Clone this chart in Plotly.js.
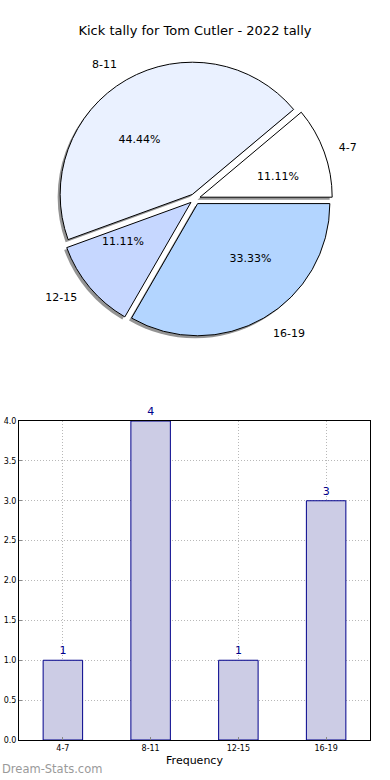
<!DOCTYPE html>
<html>
<head>
<meta charset="utf-8">
<script src="https://cdn.plot.ly/plotly-3.0.1.min.js"></script>
<style>html,body{margin:0;padding:0;background:#fff;}#chart{width:390px;height:780px;}</style>
</head>
<body>
<div id="chart"></div>
<script>
var categories = ["4-7", "8-11", "12-15", "16-19"];
var counts = [1, 4, 1, 3];
var pieColors = ["#ffffff", "#eaf1ff", "#c6d7ff", "#b3d5ff"];
var titleText = "Kick tally for Tom Cutler - 2022 tally";
var yTickVals = [0, 0.5, 1, 1.5, 2, 2.5, 3, 3.5, 4];

var W = 390, H = 780;
var pcx = 195, pcy = 199, D = 275;
var pull = [0.04, 0.04, 0.04, 0.04];
// counterclockwise pies in Plotly end the first slice at `rotation`; start it at 3 o'clock
var total = counts.reduce(function (a, b) { return a + b; }, 0);
var rot = 90 - 360 * counts[0] / total;
function pieDomain(size, dx, dy) {
  return {
    x: [(pcx - size / 2 + dx) / W, (pcx + size / 2 + dx) / W],
    y: [(H - (pcy + dy) - size / 2) / H, (H - (pcy + dy) + size / 2) / H]
  };
}
var font = "DejaVu Sans, sans-serif";
function clear() { return categories.map(function () { return "rgba(0,0,0,0)"; }); }
function base() {
  return {type: "pie", values: counts, labels: categories, sort: false,
          direction: "counterclockwise", rotation: rot, pull: pull,
          hoverinfo: "skip", showlegend: false};
}

var shadow = Object.assign(base(), {
  domain: pieDomain(D, -2.5, 2.5),
  marker: {colors: categories.map(function () { return "rgba(90,90,90,0.65)"; }), line: {width: 0}},
  textinfo: "none"
});
var pie = Object.assign(base(), {
  domain: pieDomain(D, 0, 0),
  marker: {colors: pieColors, line: {color: "#000000", width: 1}},
  textinfo: "none"
});
var piePct = Object.assign(base(), {
  domain: pieDomain(125, 0, 0),
  marker: {colors: clear(), line: {width: 0}},
  textinfo: "percent", textposition: "outside", texttemplate: "%{percent:.2%}",
  outsidetextfont: {family: font, size: 11, color: "#000000"}
});
var pieLabels = Object.assign(base(), {
  domain: pieDomain(D + 24, 0, 0),
  marker: {colors: clear(), line: {width: 0}},
  textinfo: "label", textposition: "outside",
  outsidetextfont: {family: font, size: 11, color: "#000000"}
});
var bars = {
  type: "bar", x: categories, y: counts, width: 0.45,
  marker: {color: "#ccccE5", line: {color: "#00008b", width: 1}},
  text: counts.map(String), textposition: "outside", cliponaxis: false,
  textfont: {family: font, size: 11, color: "#00008b"},
  xaxis: "x", yaxis: "y", showlegend: false
};

var layout = {
  width: W, height: H,
  margin: {l: 0, r: 0, t: 0, b: 0},
  paper_bgcolor: "#ffffff", plot_bgcolor: "#ffffff",
  font: {family: font, color: "#000000"},
  title: {text: titleText, x: 0.5, xanchor: "center", y: 1 - 30 / H, yanchor: "middle",
          font: {family: font, size: 13, color: "#000000"}},
  showlegend: false,
  xaxis: {
    domain: [19 / W, 370 / W], anchor: "y",
    type: "category", range: [-0.5, 3.5],
    showline: true, linecolor: "#000000", linewidth: 1, mirror: true,
    showgrid: true, gridcolor: "#b8b8b8", griddash: "1px,2px", gridwidth: 1,
    ticks: "inside", ticklen: 3, tickcolor: "#888888",
    tickfont: {family: font, size: 8, color: "#000000"},
    title: {text: "Frequency", font: {family: font, size: 11, color: "#000000"}, standoff: 4},
    layer: "above traces", zeroline: false
  },
  yaxis: {
    domain: [40 / H, 359 / H], anchor: "x",
    range: [0, 4], tickvals: yTickVals, tickformat: ".1f",
    showline: true, linecolor: "#000000", linewidth: 1, mirror: true,
    showgrid: true, gridcolor: "#b8b8b8", griddash: "1px,2px", gridwidth: 1,
    ticks: "inside", ticklen: 3, tickcolor: "#888888",
    tickfont: {family: font, size: 8, color: "#000000"},
    layer: "above traces", zeroline: false
  },
  annotations: [{
    text: "Dream-Stats.com", xref: "paper", yref: "paper",
    x: 0, y: 2 / H, xanchor: "left", yanchor: "bottom", showarrow: false,
    font: {family: font, size: 11.5, color: "#9a9a9a"}
  }]
};

Plotly.newPlot("chart", [shadow, pie, piePct, pieLabels, bars], layout, {displayModeBar: false, staticPlot: true});
</script>
</body>
</html>
